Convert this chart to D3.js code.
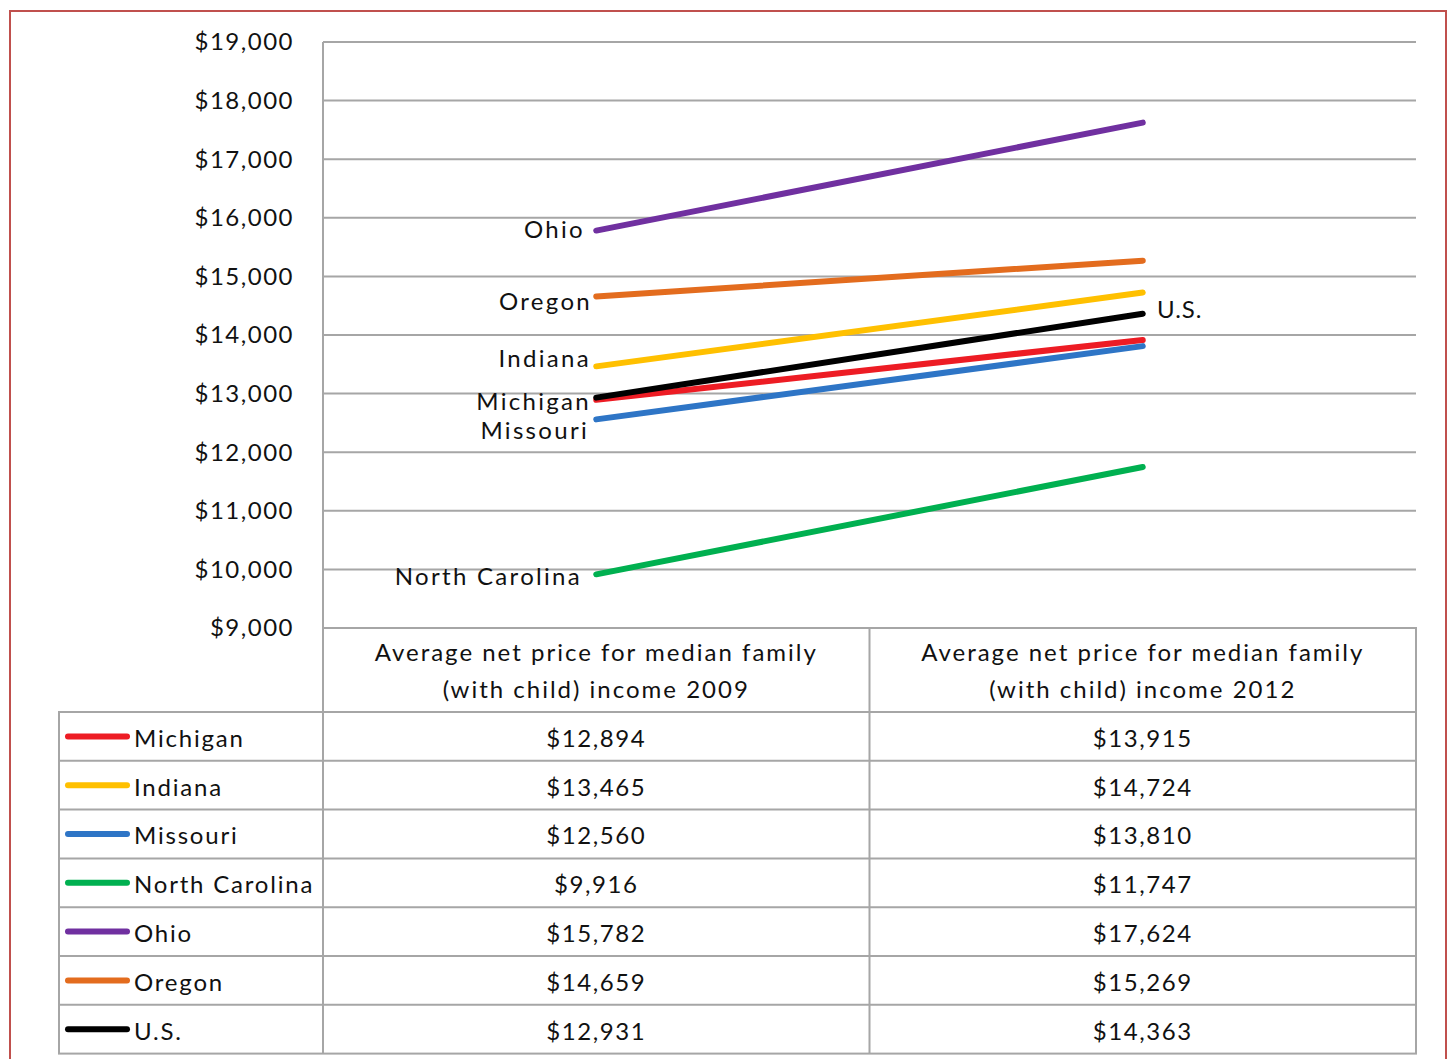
<!DOCTYPE html>
<html>
<head>
<meta charset="utf-8">
<script src="https://cdn.jsdelivr.net/npm/d3@7"></script>
<style>
  body { margin: 0; background: #fff; }
  text { font-family: Lato, "Open Sans", sans-serif; fill: #111; }
</style>
</head>
<body>
<svg width="1452" height="1059"></svg>
<script>
// data
const states = ['Michigan', 'Indiana', 'Missouri', 'North Carolina', 'Ohio', 'Oregon', 'U.S.'];
const price2009 = [12894, 13465, 12560, 9916, 15782, 14659, 12931];
const price2012 = [13915, 14724, 13810, 11747, 17624, 15269, 14363];
const categories = ['Average net price for median family (with child) income 2009',
                    'Average net price for median family (with child) income 2012'];
const colors = ['#ED1C24', '#FFC000', '#2E75C6', '#00B050', '#7030A0', '#E36C1E', '#000000'];
const yTicks = [9000, 10000, 11000, 12000, 13000, 14000, 15000, 16000, 17000, 18000, 19000];

const svg = d3.select('svg');
const grey = '#A6A6A6';
const fmt = d3.format('$,');

// outer border
svg.append('rect')
    .attr('x', 10).attr('y', 11)
    .attr('width', 1436).attr('height', 1070)
    .attr('fill', 'none')
    .attr('stroke', '#C0504D')
    .attr('stroke-width', 2);

const plotLeft = 323, plotRight = 1416, plotTop = 42, plotBottom = 628;

const x = d3.scaleBand().domain([0, 1]).range([plotLeft, plotRight]);
const y = d3.scaleLinear().domain([9000, 19000]).range([plotBottom, plotTop]);

// gridlines
svg.append('g').selectAll('line')
    .data(yTicks)
    .join('line')
    .attr('x1', plotLeft).attr('x2', plotRight)
    .attr('y1', d => y(d)).attr('y2', d => y(d))
    .attr('stroke', grey).attr('stroke-width', 2);

// y axis labels
svg.append('g').selectAll('text')
    .data(yTicks)
    .join('text')
    .attr('x', 294)
    .attr('y', d => y(d))
    .attr('dy', '0.35em')
    .attr('text-anchor', 'end')
    .style('font-size', '24px')
    .style('letter-spacing', '1.5px')
    .text(d => fmt(d));

// axis line
svg.append('line')
    .attr('x1', plotLeft).attr('x2', plotLeft)
    .attr('y1', plotTop).attr('y2', plotBottom)
    .attr('stroke', grey).attr('stroke-width', 2);

// table
const headH = 84, rowH = 48.8, tblLeft = 59;
const rowY = i => plotBottom + headH + i * rowH;
const tbl = svg.append('g');

// header box
tbl.append('path')
    .attr('d', `M${plotLeft},${plotBottom}H${plotRight}V${rowY(0)}M${x(1)},${plotBottom}V${rowY(states.length)}`)
    .attr('fill', 'none').attr('stroke', grey).attr('stroke-width', 2);
tbl.append('rect')
    .attr('x', tblLeft).attr('y', rowY(0))
    .attr('width', plotRight - tblLeft).attr('height', rowH * states.length)
    .attr('fill', 'none').attr('stroke', grey).attr('stroke-width', 2);
tbl.selectAll('line.row')
    .data(d3.range(1, states.length))
    .join('line')
    .attr('x1', tblLeft).attr('x2', plotRight)
    .attr('y1', d => rowY(d)).attr('y2', d => rowY(d))
    .attr('stroke', grey).attr('stroke-width', 2);
tbl.append('line')
    .attr('x1', plotLeft).attr('x2', plotLeft)
    .attr('y1', plotBottom).attr('y2', rowY(states.length))
    .attr('stroke', grey).attr('stroke-width', 2);

// header text
categories.forEach((c, i) => {
  const cx = x(i) + x.bandwidth() / 2;
  const t = tbl.append('text')
      .attr('text-anchor', 'middle')
      .style('font-size', '24px')
      .style('letter-spacing', '2px');
  t.append('tspan').attr('x', cx).attr('y', 661).text('Average net price for median family');
  t.append('tspan').attr('x', cx).attr('y', 698).text('(with child) income ' + (i === 0 ? '2009' : '2012'));
});

// rows
states.forEach((s, i) => {
  const cy = rowY(i) + rowH / 2 + 2;
  tbl.append('line')
      .attr('x1', 68).attr('x2', 127)
      .attr('y1', cy - 2).attr('y2', cy - 2)
      .attr('stroke', colors[i]).attr('stroke-width', 6)
      .attr('stroke-linecap', 'round');
  tbl.append('text')
      .attr('x', 134).attr('y', cy)
      .attr('dy', '0.35em')
      .style('font-size', '24px')
      .style('letter-spacing', '1.8px')
      .text(s);
  [price2009[i], price2012[i]].forEach((v, j) => {
    tbl.append('text')
        .attr('x', x(j) + x.bandwidth() / 2).attr('y', cy)
        .attr('dy', '0.35em')
        .attr('text-anchor', 'middle')
        .style('font-size', '24px')
        .style('letter-spacing', '1.6px')
        .text(fmt(v));
  });
});

// lines
const line = d3.line()
    .x((d, i) => x(i) + x.bandwidth() / 2)
    .y(d => y(d));

svg.append('g').selectAll('path')
    .data(states.map((s, i) => [price2009[i], price2012[i]]))
    .join('path')
    .attr('d', line)
    .attr('fill', 'none')
    .attr('stroke', (d, i) => colors[i])
    .attr('stroke-width', 6)
    .attr('stroke-linecap', 'round');

// line labels
const labelPos = {
  'Ohio': [585, 230], 'Oregon': [592, 302], 'Indiana': [591, 359],
  'Michigan': [591, 402], 'Missouri': [589, 431], 'North Carolina': [582, 577]
};
svg.append('g').selectAll('text')
    .data(states.filter(s => labelPos[s]))
    .join('text')
    .attr('x', d => labelPos[d][0])
    .attr('y', d => labelPos[d][1])
    .attr('dy', '0.35em')
    .attr('text-anchor', 'end')
    .style('font-size', '24px')
    .style('letter-spacing', '2.3px')
    .text(d => d);

svg.append('text')
    .attr('x', 1157).attr('y', 310)
    .attr('dy', '0.35em')
    .style('font-size', '24px')
    .style('letter-spacing', '1px')
    .text('U.S.');
</script>
</body>
</html>
